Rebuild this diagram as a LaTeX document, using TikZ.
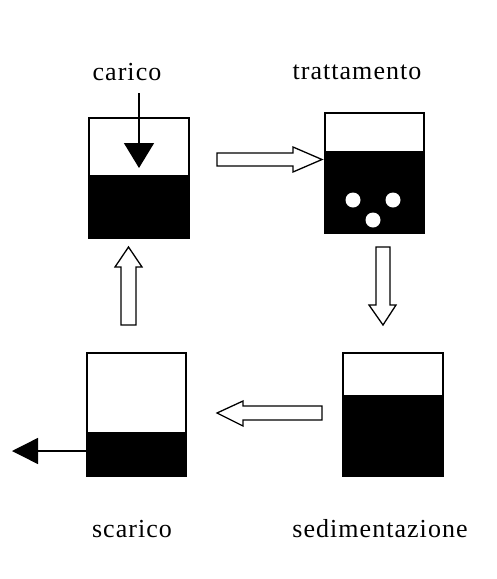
\documentclass[tikz,border=0pt]{standalone}
\usepackage{fontspec}
\setmainfont{Liberation Serif}[LetterSpace=4]
\usetikzlibrary{arrows.meta}
\begin{document}
\begin{tikzpicture}[x=1pt,y=-1pt,
  tank/.style={draw=black,line width=1.4pt,minimum width=#1,inner sep=0pt},
  hollow/.style={draw=black,line width=1.3pt,fill=white,line join=miter},
  lbl/.style={font=\fontsize{26}{30}\selectfont,inner sep=0pt},
  bubble/.style={fill=white,draw=none}]
\useasboundingbox[fill=white] (0,0) rectangle (497,579);
% labels
\node[lbl] (lcarico) at (127,72) {carico};
\node[lbl] (ltratt) at (357,72) {trattamento};
\node[lbl] (lscar) at (132,529) {scarico};
\node[lbl] (lsedi) at (380,529) {sedimentazione};
% liquids
\fill[black] (89,175) rectangle (189,238);
\fill[black] (325,151) rectangle (424,233);
\fill[black] (87,432) rectangle (186,476);
\fill[black] (343,395) rectangle (443,476);
% tanks
\node[tank=100pt,minimum height=120pt] (t1) at (139,178) {};
\node[tank=99pt,minimum height=120pt] (t2) at (374.5,173) {};
\node[tank=99pt,minimum height=123pt] (t3) at (136.5,414.5) {};
\node[tank=100pt,minimum height=123pt] (t4) at (393,414.5) {};
% bubbles
\node[bubble,circle,minimum size=15pt,inner sep=0pt] (b1) at (353,200) {};
\node[bubble,circle,minimum size=15pt,inner sep=0pt] (b2) at (393,200) {};
\node[bubble,circle,minimum size=15pt,inner sep=0pt] (b3) at (373,220) {};
% carico arrow
\coordinate (cin) at (139,93);
\coordinate (cend) at (139,168);
\draw[line width=1.4pt,-{Triangle[length=25pt,width=30pt]}] (cin) -- (cend);
% scarico arrow
\coordinate (sout) at (12,451);
\draw[line width=1.4pt,-{Triangle[length=26pt,width=26pt]}] (t3.west |- 0,451) -- (sout);
% hollow arrows
\draw[hollow] (217,153) -- (293,153) -- (293,147) -- (322,159.5) -- (293,172) -- (293,166) -- (217,166) -- cycle;
\draw[hollow] (376,247) -- (390,247) -- (390,305) -- (396,305) -- (383,325) -- (369,305) -- (376,305) -- cycle;
\draw[hollow] (322,406) -- (243,406) -- (243,401) -- (217,413) -- (243,426) -- (243,420) -- (322,420) -- cycle;
\draw[hollow] (121,325) -- (121,267) -- (115,267) -- (128.5,247) -- (142,267) -- (136,267) -- (136,325) -- cycle;
\end{tikzpicture}
\end{document}
